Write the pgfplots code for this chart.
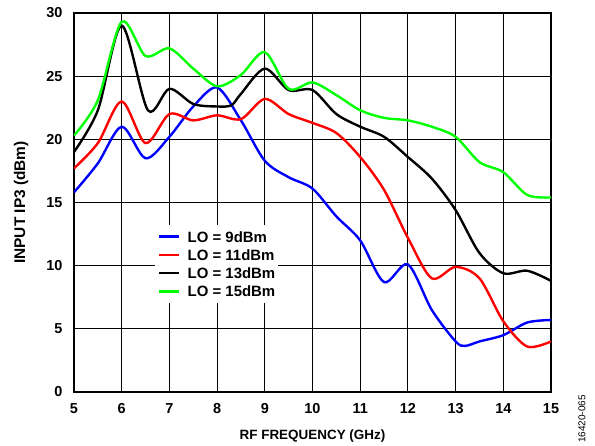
\documentclass[border=0pt]{standalone}
\usepackage{fontspec}
\setmainfont{Liberation Sans}
\usepackage{pgfplots}
\pgfplotsset{compat=1.18}
\begin{document}
\begin{tikzpicture}
\path[use as bounding box] (-74bp,-54bp) rectangle (521bp,392bp);
\begin{axis}[
  scale only axis, width=477bp, height=379bp,
  xmin=5, xmax=15, ymin=0, ymax=30,
  xtick={5,6,...,15}, ytick={0,5,...,30},
  grid=major, major grid style={black, line width=0.9pt},
  axis line style={line width=1.7pt},
  major tick length=0pt,
  /pgf/number format/assume math mode=true,
  tick label style={font=\fontsize{14.5}{16}\selectfont\bfseries},
  yticklabel style={xshift=-8bp},
  xticklabel style={yshift=-8bp},
  xlabel={RF FREQUENCY (GHz)}, ylabel={INPUT IP3 (dBm)},
  xlabel style={font=\fontsize{13.5}{15}\selectfont\bfseries, at={(axis description cs:0.5,-0.116)}, anchor=center},
  ylabel style={font=\fontsize{15.5}{17}\selectfont\bfseries, at={(axis description cs:-0.111,0.5)}, anchor=center},
  legend style={at={(axis description cs:0.170,0.4406)}, anchor=north west, draw=none, fill=white,
    font=\fontsize{15}{17}\selectfont\bfseries, row sep=7.5bp, inner xsep=3bp, inner ysep=6bp,
    nodes={text height=10.8bp, text depth=0bp, inner sep=0bp},
    /tikz/every odd column/.append style={column sep=7bp}},
  legend cell align=left,
  legend image code/.code={\draw[#1] (0bp,0bp) -- (20bp,0bp);},
  every axis plot/.append style={line width=2.4pt, smooth, tension=0.5},
]
\addplot[color={rgb,255:red,0;green,0;blue,255}] coordinates {
(5,15.8)(5.5,18.1)(6,21.0)(6.5,18.5)(7,20.2)(7.5,22.6)(8,24.1)(8.5,21.5)(9,18.3)(9.5,17.0)(10,16.1)
(10.5,13.9)(11,12.0)(11.5,8.7)(12,10.1)(12.5,6.5)(13,4.0)(13.2,3.65)(13.5,4.0)(14,4.5)(14.5,5.5)(15,5.7)};
\addlegendentry{LO = 9dBm}
\addplot[color={rgb,255:red,255;green,0;blue,0}] coordinates {
(5,17.7)(5.5,19.7)(6,23.0)(6.5,19.7)(7,22.0)(7.5,21.5)(8,21.9)(8.5,21.6)(9,23.2)(9.5,22.0)(10,21.3)
(10.5,20.5)(11,18.6)(11.5,16.0)(12,12.2)(12.5,9.0)(13,9.9)(13.5,9.0)(14,5.6)(14.5,3.6)(15,4.0)};
\addlegendentry{LO = 11dBm}
\addplot[color=black] coordinates {
(5,19.0)(5.5,22.3)(6,29.0)(6.55,22.3)(7,24.0)(7.5,22.8)(8,22.6)(8.3,22.7)(8.5,23.6)(9,25.6)(9.5,23.9)(10,23.9)
(10.5,22.0)(11,21.0)(11.5,20.2)(12,18.6)(12.5,16.9)(13,14.4)(13.5,11.0)(14,9.4)(14.5,9.6)(15,8.8)};
\addlegendentry{LO = 13dBm}
\addplot[color={rgb,255:red,0;green,255;blue,0}] coordinates {
(5,20.3)(5.5,23.1)(6,29.3)(6.5,26.6)(7,27.2)(7.5,25.6)(8,24.2)(8.5,25.1)(9,26.9)(9.5,24.0)(10,24.5)
(10.5,23.5)(11,22.3)(11.5,21.7)(12,21.5)(12.5,21.0)(13,20.2)(13.5,18.2)(14,17.4)(14.5,15.6)(15,15.4)};
\addlegendentry{LO = 15dBm}
\end{axis}
\node[rotate=90, font=\fontsize{10}{12}\selectfont] at (508bp,-27bp) {16420-065};
\end{tikzpicture}
\end{document}
